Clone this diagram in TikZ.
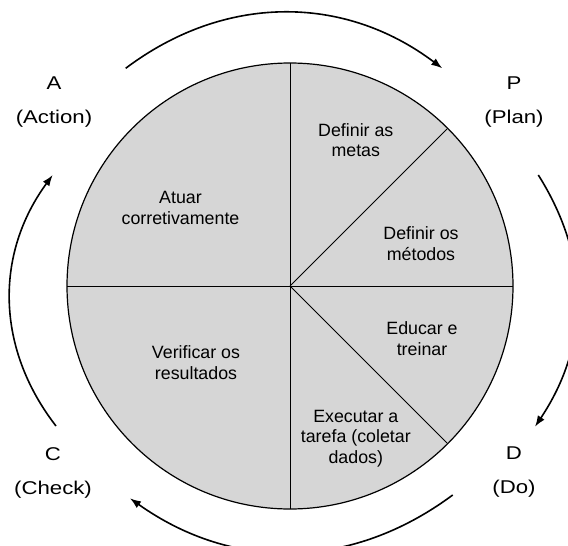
\documentclass[tikz,border=0pt]{standalone}
\usepackage{fontspec}
\setmainfont{Liberation Sans}
\usetikzlibrary{arrows.meta}
\definecolor{sectorgray}{RGB}{214,214,214}
% phase letters are set slightly stretched
\newcommand{\widetext}[1]{\scalebox{1.2}[1]{#1}}
\begin{document}
\begin{tikzpicture}[x=1pt,y=-1pt,
  divider/.style={line width=1pt},
  stage/.style={align=center,inner sep=0pt,anchor=base,
    font=\fontsize{17.8}{20.6}\selectfont},
  phase/.style={align=center,inner sep=0pt,anchor=base,
    font=\fontsize{18.5}{34}\selectfont},
  cycle/.style={line width=1.6pt,-{Latex[length=11pt,width=8pt]}}]
\useasboundingbox (0,0) rectangle (568,546);

% the PDCA wheel
\coordinate (O) at (290,286);
\coordinate (top) at (290,63);
\coordinate (bottom) at (290,509);
\coordinate (left) at (67,286);
\coordinate (right) at (513,286);
\coordinate (ne) at (447.7,128.3);
\coordinate (se) at (447.7,443.7);
\draw[line width=1.2pt, fill=sectorgray] (O) circle[radius=223];
\draw[divider] (O) -- (top);
\draw[divider] (O) -- (bottom);
\draw[divider] (O) -- (left);
\draw[divider] (O) -- (right);
\draw[divider] (O) -- (ne);
\draw[divider] (O) -- (se);

% sector texts (anchored at the baseline of the last line)
\node[stage] (metas) at (355.8,156.7) {Definir as\\metas};
\node[stage] (metodos) at (421,260) {Definir os\\métodos};
\node[stage] (educar) at (422,355) {Educar e\\treinar};
\node[stage] (executar) at (355.8,463.3) {Executar a\\tarefa (coletar\\dados)};
\node[stage] (verificar) at (196,379) {Verificar os\\resultados};
\node[stage] (atuar) at (180.5,224) {Atuar\\corretivamente};

% phase labels
\node[phase] (A) at (54,123.3) {\widetext{A}\\\widetext{(Action)}};
\node[phase] (P) at (514,123.3) {\widetext{P}\\\widetext{(Plan)}};
\node[phase] (C) at (53,494) {\widetext{C}\\\widetext{(Check)}};
\node[phase] (D) at (514,493) {\widetext{D}\\\widetext{(Do)}};

% cycle arrows around the wheel
\coordinate (a1) at (125.7,68.3);
\coordinate (a2) at (442.3,68.3);
\coordinate (b1) at (538.3,175);
\coordinate (b2) at (535,426.7);
\coordinate (c1) at (452.7,495);
\coordinate (c2) at (130,498.3);
\coordinate (d1) at (56,426);
\coordinate (d2) at (52.7,175);
\draw[cycle] (a1) to[bend left=37] (a2);
\draw[cycle] (b1) to[bend left=33] (b2);
\draw[cycle] (c1) to[bend left=36] (c2);
\draw[cycle] (d1) to[bend left=37] (d2);
\end{tikzpicture}
\end{document}
